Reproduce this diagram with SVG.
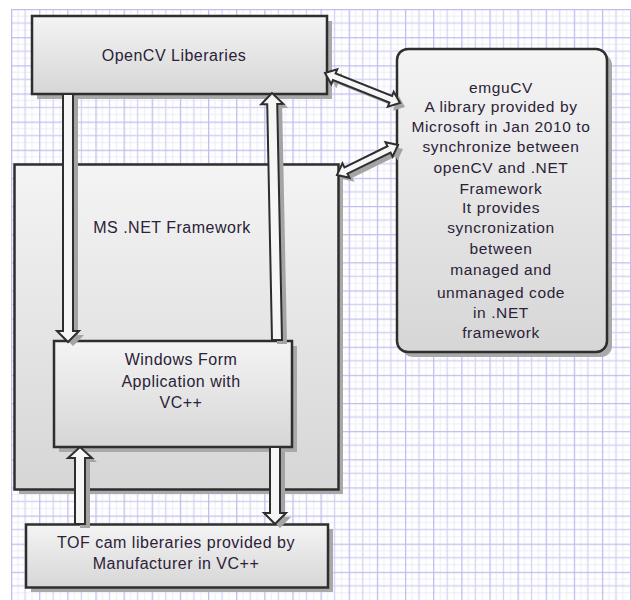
<svg xmlns="http://www.w3.org/2000/svg" xmlns:xlink="http://www.w3.org/1999/xlink" width="631" height="600" viewBox="0 0 631 600">
<style>
.box{fill:url(#g);stroke:#2e2e2e;stroke-width:2.5}
.shd{fill:#a9a9a9}
.t{font-family:"Liberation Sans",Arial,sans-serif;font-size:16px;letter-spacing:0.5px;fill:#2b2238;text-anchor:middle}
.te{font-size:15.5px;letter-spacing:0.6px}
.ar{fill:#f6f6f6;stroke:#2e2e2e;stroke-width:2;stroke-linejoin:miter}
.as{fill:#a4a4a4;stroke:none}
</style>
<defs>
<linearGradient id="g" x1="0" y1="0" x2="0" y2="1">
<stop offset="0" stop-color="#f4f4f4"/>
<stop offset="1" stop-color="#d6d6d6"/>
</linearGradient>
<pattern id="grid" patternUnits="userSpaceOnUse" x="11" y="9" width="28.14" height="28.14">
<rect width="28.14" height="28.14" fill="#ffffff"/>
<path d="M7.03 0V28.14M21.1 0V28.14M0 7.03H28.14M0 21.1H28.14" stroke="#ececf9" stroke-width="1" fill="none"/>
<path d="M14.07 0V28.14M0 14.07H28.14" stroke="#d3d3f4" stroke-width="1.3" fill="none"/>
<path d="M0.6 0V28.14M0 0.6H28.14" stroke="#bdbdef" stroke-width="1.3" fill="none"/>
</pattern>
<polygon id="pA" transform="translate(68,94) rotate(90)" points="0,-5 237,-5 237,-11 248,0 237,11 237,5 0,5"/>
<polygon id="pB" transform="translate(277,340) rotate(-91.16)" points="0,-5 236,-5 236,-11 247,0 236,11 236,5 0,5"/>
<polygon id="pC" transform="translate(80,524) rotate(-90)" points="0,-5 66,-5 66,-12 77,0 66,12 66,5 0,5"/>
<polygon id="pD" transform="translate(275,447) rotate(90)" points="0,-5 66,-5 66,-11 77,0 66,11 66,5 0,5"/>
<polygon id="pE" transform="translate(325,73) rotate(21.8)" points="0,0 10,-8 10,-3.5 70.8,-3.5 70.8,-8 80.8,0 70.8,8 70.8,3.5 10,3.5 10,8"/>
<polygon id="pF" transform="translate(337,175) rotate(-26.2)" points="0,0 10,-8 10,-3.5 58,-3.5 58,-8 68,0 58,8 58,3.5 10,3.5 10,8"/>
</defs>
<rect x="0" y="0" width="631" height="600" fill="#ffffff"/>
<rect x="11" y="9" width="620" height="591" fill="url(#grid)"/>

<g id="node-dotnet">
<rect class="shd" x="19" y="169" width="324" height="325"/>
<rect class="box" x="14.5" y="164.5" width="324" height="325"/>
<text class="t" x="172" y="232.5">MS .NET Framework</text>
</g>

<g id="node-opencv">
<rect class="shd" x="37" y="21" width="295" height="78"/>
<rect class="box" x="32" y="16" width="295" height="78"/>
<text class="t" x="174" y="60.5">OpenCV Liberaries</text>
</g>

<g id="node-emgucv">
<rect class="shd" x="402" y="54" width="210" height="303" rx="11"/>
<rect class="box" x="397" y="49" width="210" height="303" rx="11"/>
<text class="t te" x="501" y="93">emguCV</text>
<text class="t te" x="501" y="111.5">A library provided by</text>
<text class="t te" x="501" y="132">Microsoft in Jan 2010 to</text>
<text class="t te" x="501" y="152">synchronize between</text>
<text class="t te" x="501" y="173">openCV and .NET</text>
<text class="t te" x="501" y="194">Framework</text>
<text class="t te" x="501" y="213">It provides</text>
<text class="t te" x="501" y="233">syncronization</text>
<text class="t te" x="501" y="254">between</text>
<text class="t te" x="501" y="275">managed and</text>
<text class="t te" x="501" y="297.5">unmanaged code</text>
<text class="t te" x="501" y="318">in .NET</text>
<text class="t te" x="501" y="338">framework</text>
</g>

<g id="node-winform">
<rect class="shd" x="59" y="346" width="238" height="106"/>
<rect class="box" x="54" y="341" width="238" height="106"/>
<text class="t" x="181" y="365">Windows Form</text>
<text class="t" x="181" y="386.5">Application with</text>
<text class="t" x="181" y="407.5">VC++</text>
</g>

<g id="node-tof">
<rect class="shd" x="31" y="529" width="302" height="63"/>
<rect class="box" x="26" y="524.5" width="302" height="63"/>
<text class="t" x="176" y="548">TOF cam liberaries provided by</text>
<text class="t" x="176" y="569">Manufacturer in VC++</text>
</g>

<g id="connectors">
<g transform="translate(5,4)">
<use xlink:href="#pA" class="as"/>
<use xlink:href="#pB" class="as"/>
<use xlink:href="#pC" class="as"/>
<use xlink:href="#pD" class="as"/>
<use xlink:href="#pE" class="as"/>
<use xlink:href="#pF" class="as"/>
</g>
<use xlink:href="#pA" class="ar"/>
<use xlink:href="#pB" class="ar"/>
<use xlink:href="#pC" class="ar"/>
<use xlink:href="#pD" class="ar"/>
<use xlink:href="#pE" class="ar"/>
<use xlink:href="#pF" class="ar"/>
</g>
</svg>
